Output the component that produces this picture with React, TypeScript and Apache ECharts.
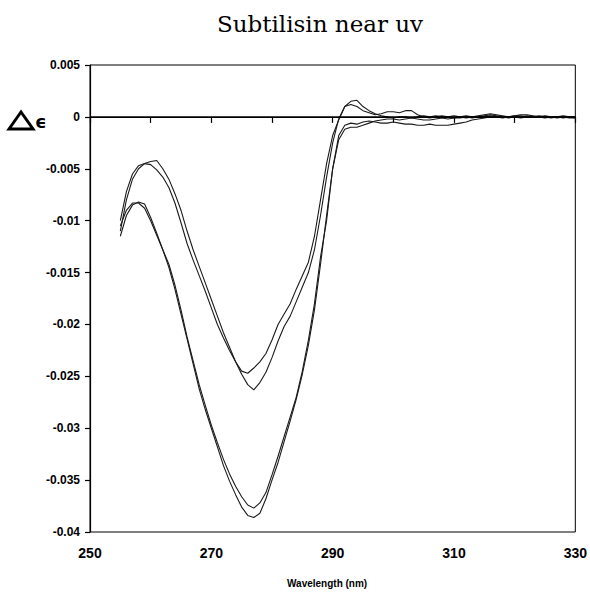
import React, { useEffect, useRef } from "react";
import * as echarts from "echarts";

const wavelengths: number[] = [
  255, 256, 257, 258, 259, 260, 261, 262, 263, 264, 265, 266, 267, 268, 269, 270,
  271, 272, 273, 274, 275, 276, 277, 278, 279, 280, 281, 282, 283, 284, 285, 286,
  287, 288, 289, 290, 291, 292, 293, 294, 295, 296, 297, 298, 299, 300, 301, 302,
  303, 304, 305, 306, 307, 308, 309, 310, 311, 312, 313, 314, 315, 316, 317, 318,
  319, 320, 321, 322, 323, 324, 325, 326, 327, 328, 329, 330,
];

// upper pair, trace A
const curveA: number[] = [
  -0.0100, -0.0072, -0.0055, -0.0047, -0.0045, -0.0046, -0.0051, -0.0058, -0.0068, -0.0083,
  -0.0102, -0.0122, -0.0138, -0.0153, -0.0168, -0.0184, -0.0200, -0.0213, -0.0225, -0.0236,
  -0.0245, -0.0247, -0.0242, -0.0236, -0.0228, -0.0215, -0.0200, -0.0190, -0.0180, -0.0166,
  -0.0153, -0.0140, -0.0115, -0.0080, -0.0045, -0.0018, -0.0003, 0.0010, 0.0012, 0.0010,
  0.0006, 0.0004, 0.0002, 0.0003, 0.0005, 0.0005, 0.0004, 0.0006, 0.0006, 0.0002,
  0.0000, -0.0001, 0.0000, 0.0001, 0.0000, -0.0001, 0.0000, 0.0001, 0.0000, 0.0001,
  0.0002, 0.0003, 0.0002, 0.0001, 0.0000, 0.0001, 0.0002, 0.0002, 0.0001, 0.0000,
  0.0001, 0.0000, 0.0000, 0.0001, 0.0000, -0.0001,
];

// upper pair, trace B
const curveB: number[] = [
  -0.0110, -0.0080, -0.0060, -0.0050, -0.0045, -0.0043, -0.0042, -0.0050, -0.0060, -0.0074,
  -0.0090, -0.0110, -0.0128, -0.0144, -0.0160, -0.0176, -0.0192, -0.0208, -0.0222, -0.0236,
  -0.0248, -0.0258, -0.0263, -0.0256, -0.0246, -0.0232, -0.0216, -0.0202, -0.0192, -0.0178,
  -0.0164, -0.0150, -0.0128, -0.0095, -0.0058, -0.0025, -0.0002, 0.0010, 0.0015, 0.0016,
  0.0010, 0.0006, 0.0003, 0.0001, 0.0000, -0.0001, 0.0000, 0.0000, -0.0001, 0.0000,
  0.0001, 0.0000, 0.0001, 0.0000, 0.0000, 0.0001, 0.0000, -0.0001, 0.0000, 0.0000,
  0.0001, 0.0002, 0.0001, 0.0000, 0.0000, 0.0001, 0.0001, 0.0000, 0.0000, 0.0001,
  0.0000, 0.0000, -0.0001, 0.0000, 0.0000, 0.0000,
];

// lower pair, trace C
const curveC: number[] = [
  -0.0115, -0.0095, -0.0085, -0.0082, -0.0084, -0.0097, -0.0112, -0.0128, -0.0142, -0.0162,
  -0.0186, -0.0212, -0.0235, -0.0258, -0.0278, -0.0297, -0.0314, -0.0330, -0.0344, -0.0356,
  -0.0366, -0.0374, -0.0377, -0.0372, -0.0362, -0.0345, -0.0327, -0.0308, -0.0289, -0.0270,
  -0.0245, -0.0215, -0.0180, -0.0135, -0.0100, -0.0050, -0.0018, -0.0008, -0.0006, -0.0007,
  -0.0005, -0.0004, -0.0005, -0.0006, -0.0006, -0.0005, -0.0006, -0.0007, -0.0007, -0.0008,
  -0.0008, -0.0007, -0.0008, -0.0008, -0.0008, -0.0007, -0.0006, -0.0005, -0.0003, -0.0002,
  -0.0001, 0.0000, 0.0000, -0.0001, 0.0000, 0.0000, -0.0001, 0.0000, 0.0000, 0.0000,
  -0.0001, 0.0000, 0.0000, -0.0001, 0.0000, 0.0000,
];

// lower pair, trace D
const curveD: number[] = [
  -0.0105, -0.0090, -0.0083, -0.0083, -0.0088, -0.0100, -0.0114, -0.0128, -0.0145, -0.0166,
  -0.0190, -0.0214, -0.0238, -0.0262, -0.0282, -0.0300, -0.0318, -0.0336, -0.0351, -0.0364,
  -0.0376, -0.0384, -0.0386, -0.0382, -0.0368, -0.0350, -0.0333, -0.0313, -0.0293, -0.0272,
  -0.0248, -0.0220, -0.0186, -0.0142, -0.0095, -0.0050, -0.0022, -0.0012, -0.0010, -0.0010,
  -0.0008, -0.0006, -0.0004, -0.0003, -0.0002, -0.0002, -0.0003, -0.0002, -0.0001, -0.0002,
  -0.0003, -0.0003, -0.0002, -0.0001, -0.0002, -0.0001, -0.0001, 0.0000, -0.0001, 0.0000,
  0.0000, 0.0001, 0.0000, 0.0000, -0.0001, 0.0000, 0.0000, 0.0001, 0.0000, 0.0000,
  0.0000, -0.0001, 0.0000, 0.0000, -0.0001, -0.0001,
];

const xTickLabels: number[] = [250, 270, 290, 310, 330];
const titleText = "Subtilisin near uv";
const xAxisTitle = "Wavelength (nm)";

const labelFont = '"Liberation Sans Narrow", "Arial Narrow", "Liberation Sans", sans-serif';

export default function App() {
  const ref = useRef<HTMLDivElement>(null);
  useEffect(() => {
    if (!ref.current) return;
    const chart = echarts.init(ref.current, null, { renderer: "svg" });
    const mk = (arr: number[]) => wavelengths.map((w, i) => [w, arr[i]]);
    const lineSeries = (name: string, arr: number[]) => ({
      name,
      type: "line",
      data: mk(arr),
      showSymbol: false,
      symbol: "none",
      smooth: false,
      lineStyle: { color: "#1a1a1a", width: 1.1 },
      z: 3,
    });
    chart.setOption({
      animation: false,
      backgroundColor: "#ffffff",
      grid: {
        left: 90,
        right: 11,
        top: 65,
        bottom: 61,
        show: true,
        borderColor: "#000",
        borderWidth: 1,
        backgroundColor: "transparent",
      },
      xAxis: {
        type: "value",
        min: 250,
        max: 330,
        interval: 10,
        axisLine: { show: true, lineStyle: { color: "#000", width: 1.2 } },
        axisTick: { show: true, inside: false, length: 6, lineStyle: { color: "#000", width: 1.2 } },
        splitLine: { show: false },
        axisLabel: {
          margin: 14,
          color: "#000",
          fontFamily: labelFont,
          fontWeight: "bold",
          fontSize: 14,
          formatter: (v: number) => (xTickLabels.includes(Math.round(v)) ? String(Math.round(v)) : ""),
        },
      },
      yAxis: {
        type: "value",
        min: -0.04,
        max: 0.005,
        interval: 0.005,
        axisLine: { show: true, lineStyle: { color: "#000", width: 1.2 } },
        axisTick: { show: true, inside: false, length: 5, lineStyle: { color: "#000", width: 1.2 } },
        splitLine: { show: false },
        axisLabel: {
          margin: 10,
          color: "#000",
          fontFamily: labelFont,
          fontWeight: "bold",
          fontSize: 12,
          formatter: (v: number) => String(parseFloat(v.toFixed(3))),
        },
      },
      title: {
        text: titleText,
        left: 315,
        top: 7,
        textAlign: "center",
        textStyle: {
          fontFamily: '"DejaVu Serif", serif',
          fontWeight: "normal",
          fontSize: 23,
          color: "#000",
        },
      },
      graphic: [
        {
          type: "polygon",
          shape: { points: [[9, 129], [21, 112], [33, 129]] },
          style: { fill: "none", stroke: "#000", lineWidth: 3, lineJoin: "miter" },
        },
        {
          type: "text",
          left: 35,
          top: 112,
          style: {
            text: "ϵ",
            font: 'bold 18px "DejaVu Sans", sans-serif',
            fill: "#000",
          },
        },
        {
          type: "text",
          left: 287,
          top: 578,
          style: {
            text: xAxisTitle,
            font: 'bold 10px ' + labelFont,
            fill: "#000",
          },
        },
      ],
      series: [
        {
          ...lineSeries("A", curveA),
          markLine: {
            silent: true,
            symbol: "none",
            label: { show: false },
            lineStyle: { color: "#000", width: 1.6, type: "solid" },
            data: [{ yAxis: 0 }],
          },
        },
        lineSeries("B", curveB),
        lineSeries("C", curveC),
        lineSeries("D", curveD),
      ],
    });
    return () => chart.dispose();
  }, []);
  return (
    <div
      ref={ref}
      style={{ position: "fixed", left: 0, top: 0, width: 590, height: 593, background: "#fff" }}
    />
  );
}
